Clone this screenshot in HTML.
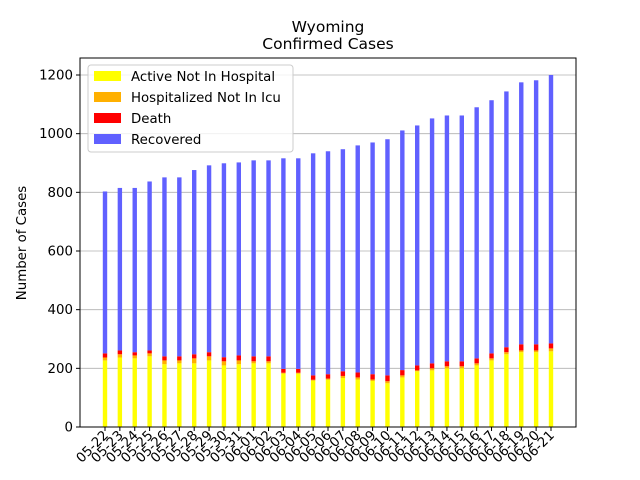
<!DOCTYPE html>
<html><head><meta charset="utf-8"><style>
body{margin:0;background:#fff;font-family:"DejaVu Sans","Liberation Sans",sans-serif}
svg{display:block}
svg text{font-family:"DejaVu Sans","Liberation Sans",sans-serif}
</style></head><body>
<svg id="chart" width="640" height="480" xmlns="http://www.w3.org/2000/svg">
<text x="328" y="32" text-anchor="middle" font-size="15.5">Wyoming</text>
<text x="328" y="49" text-anchor="middle" font-size="15.5">Confirmed Cases</text>
<text transform="translate(26,243) rotate(-90)" text-anchor="middle" font-size="13.33">Number of Cases</text>
<g id="grid"></g><g id="bars"></g><g id="axes"></g>
<g>
<rect x="88" y="65" width="205" height="87" rx="3" fill="#fff" fill-opacity="0.8" stroke="#ccc"/>
<rect x="94" y="71" width="27" height="10" fill="#ffff00"/>
<text x="131" y="81" font-size="13.33">Active Not In Hospital</text>
<rect x="94" y="92" width="27" height="10" fill="#ffb000"/>
<text x="131" y="102" font-size="13.33">Hospitalized Not In Icu</text>
<rect x="94" y="113" width="27" height="10" fill="#ff0000"/>
<text x="131" y="123" font-size="13.33">Death</text>
<rect x="94" y="134" width="27" height="10" fill="#6060ff"/>
<text x="131" y="144" font-size="13.33">Recovered</text>
</g>
</svg>
<script>
const categories=["05-22","05-23","05-24","05-25","05-26","05-27","05-28","05-29","05-30","05-31","06-01","06-02","06-03","06-04","06-05","06-06","06-07","06-08","06-09","06-10","06-11","06-12","06-13","06-14","06-15","06-16","06-17","06-18","06-19","06-20","06-21"];
const active=[227,237,234,241,214,217,217,227,210,214,217,217,182,182,158,161,167,162,157,149,169,190,193,200,200,210,227,248,255,255,258];
const hospitalized=[10,11,10,10,13,10,17,14,14,13,7,7,3,3,3,4,7,7,5,7,7,3,7,7,7,7,7,7,6,6,10];
const death=[14,13,11,10,14,14,14,14,14,17,17,17,13,13,15,15,16,17,18,20,18,17,17,17,17,17,17,17,21,21,17];
const recovered=[552,554,560,576,610,610,628,637,661,658,668,668,718,718,757,760,757,774,790,805,817,818,835,838,838,856,863,872,893,900,915];
const yTicks=[0,200,400,600,800,1000,1200];
const NS="http://www.w3.org/2000/svg";
const L=80,R=576,T=58,B=427;
const y=v=>B-v*(B-75)/1200;
const x=i=>105+i*(551-105)/(categories.length-1);
function mk(tag,attrs,parent){const e=document.createElementNS(NS,tag);for(const k in attrs)e.setAttribute(k,attrs[k]);parent.appendChild(e);return e;}
const grid=document.getElementById('grid'),bars=document.getElementById('bars'),axes=document.getElementById('axes');
yTicks.forEach(t=>{
 const g=mk('line',{x1:L,x2:R,y1:y(t),y2:y(t),stroke:'#b0b0b0','stroke-width':0.8},grid);
 
 
 mk('line',{x1:L-4,x2:L,y1:y(t),y2:y(t),stroke:'#000'},axes);
 const tx=mk('text',{x:L-7,y:y(t)+4.5,'text-anchor':'end','font-size':13.33},axes);
 tx.textContent=t;
 
 
});
const series=[[active,'#ffff00','active'],[hospitalized,'#ffb000','hospitalized'],[death,'#ff0000','death'],[recovered,'#6060ff','recovered']];
categories.forEach((c,i)=>{
 let base=0;
 series.forEach(([arr,col,nm])=>{
  const v=arr[i];
  const r=mk('rect',{x:x(i)-2.2,width:4.4,y:y(base+v),height:y(base)-y(base+v),fill:col},bars);
  
  
  base+=v;
 });
 mk('line',{x1:x(i),x2:x(i),y1:B,y2:B+4,stroke:'#000'},axes);
 const tx=mk('text',{transform:`translate(${x(i)+4},${B+9}) rotate(-45)`,'text-anchor':'end','font-size':13.33},axes);
 tx.textContent=c;
 
 
});
const fr=mk('rect',{x:L,y:T,width:R-L,height:B-T,fill:'none',stroke:'#000','stroke-width':1},axes);


</script>
</body></html>
